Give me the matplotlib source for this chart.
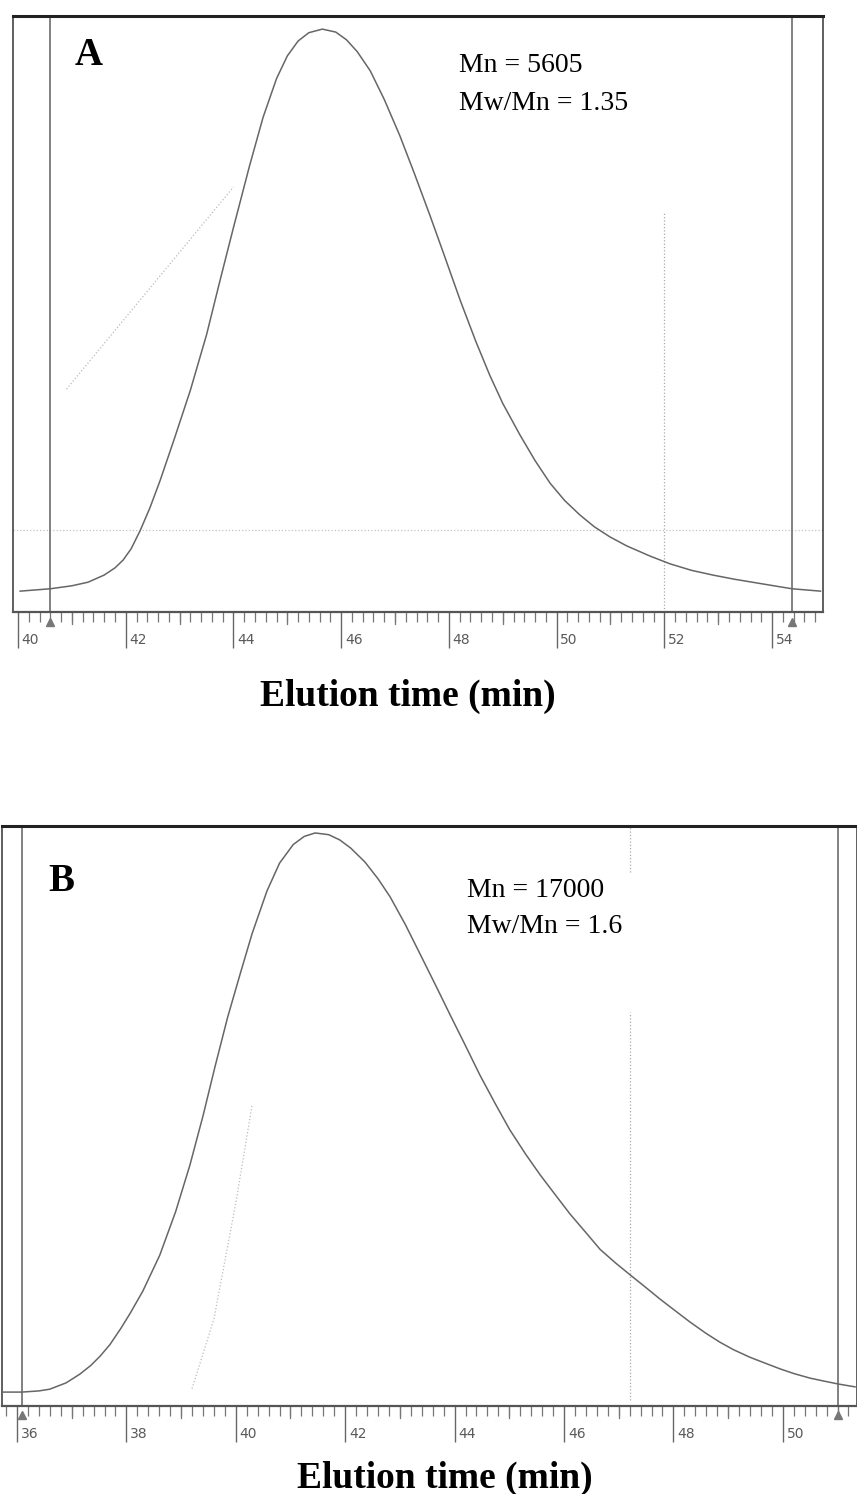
import matplotlib.pyplot as plt
import numpy as np
from matplotlib.transforms import blended_transform_factory

# Panel A trace (elution time, detector signal in % of frame height)
time_a = [40.04, 40.6, 41.0, 41.3, 41.6, 41.8, 41.95, 42.1, 42.27, 42.45, 42.64, 42.9,
          43.2, 43.5, 43.75, 44.0, 44.3, 44.55, 44.8, 45.0, 45.2, 45.4, 45.65, 45.9,
          46.1, 46.3, 46.54, 46.8, 47.09, 47.35, 47.65, 47.9, 48.21, 48.5, 48.76, 49.0,
          49.32, 49.6, 49.88, 50.15, 50.43, 50.7, 50.99, 51.3, 51.73, 52.1, 52.5, 52.9,
          53.3, 53.7, 54.1, 54.37, 54.9]
signal_a = [3.5, 3.9, 4.4, 5.0, 6.2, 7.4, 8.7, 10.6, 13.7, 17.5, 22.1, 29.0,
            37.2, 46.5, 55.6, 64.5, 74.9, 83.0, 89.5, 93.3, 95.8, 97.2, 97.8, 97.3,
            96.0, 94.0, 90.8, 86.0, 79.9, 73.8, 66.5, 60.2, 52.3, 45.4, 39.7, 35.0,
            29.7, 25.4, 21.6, 18.7, 16.3, 14.3, 12.6, 11.1, 9.4, 8.1, 7.0, 6.2,
            5.5, 4.9, 4.3, 3.9, 3.5]

# Panel B trace
time_b = [35.73, 36.09, 36.4, 36.6, 36.9, 37.15, 37.35, 37.52, 37.7, 37.9, 38.07, 38.3,
          38.61, 38.9, 39.16, 39.4, 39.62, 39.85, 40.08, 40.3, 40.57, 40.8, 41.05, 41.25,
          41.45, 41.7, 41.9, 42.1, 42.36, 42.6, 42.82, 43.1, 43.37, 43.65, 43.92, 44.2,
          44.46, 44.75, 45.01, 45.3, 45.56, 45.85, 46.11, 46.4, 46.66, 46.95, 47.21, 47.5,
          47.76, 48.05, 48.3, 48.6, 48.85, 49.1, 49.4, 49.7, 49.95, 50.2, 50.5, 50.75,
          51.01, 51.32]
signal_b = [2.4, 2.4, 2.6, 2.9, 4.0, 5.5, 7.0, 8.6, 10.6, 13.4, 16.0, 19.8,
            26.0, 33.5, 41.5, 50.0, 58.5, 67.0, 74.5, 81.5, 88.8, 93.6, 96.8, 98.2,
            98.8, 98.5, 97.6, 96.2, 93.8, 90.9, 87.8, 83.0, 77.9, 72.6, 67.4, 62.1,
            57.1, 52.0, 47.6, 43.4, 39.9, 36.3, 33.1, 29.9, 27.0, 24.6, 22.6, 20.4,
            18.4, 16.3, 14.5, 12.5, 11.0, 9.7, 8.4, 7.3, 6.4, 5.6, 4.8, 4.3,
            3.8, 3.3]

# faint dotted traces seen in the scan
calib_a_t = [40.9, 44.0]
calib_a_v = [37.4, 71.3]
calib_b_t = [39.2, 39.6, 40.0, 40.3]
calib_b_v = [3.0, 15.0, 35.0, 52.0]

ticks_a = [40, 42, 44, 46, 48, 50, 52, 54]
ticks_b = [36, 38, 40, 42, 44, 46, 48, 50]
marks_a = [40.6, 54.37]   # integration limits
marks_b = [36.09, 51.01]

panels = [
    dict(rect=[0.01517, 0.59036, 0.94516, 0.39893], xlim=(39.907, 54.946),
         t=time_a, s=signal_a, ticks=ticks_a, marks=marks_a,
         ct=calib_a_t, cv=calib_a_v, dot_x=52.0, dot_spans=[(0, 67)], hline=13.8),
    dict(rect=[0.00233, 0.05890, 0.99767, 0.38822], xlim=(35.726, 51.356),
         t=time_b, s=signal_b, ticks=ticks_b, marks=marks_b,
         ct=calib_b_t, cv=calib_b_v, dot_x=47.2, dot_spans=[(1, 68), (92, 100)], hline=None),
]

plt.rcParams['font.family'] = ['Liberation Serif', 'DejaVu Serif']
fig = plt.figure(figsize=(8.57, 14.94), dpi=100)

for p in panels:
    ax = fig.add_axes(p['rect'])
    ax.set_xlim(*p['xlim'])
    ax.set_ylim(0, 100)
    ax.set_yticks([])

    ax.plot(p['t'], p['s'], color='#666666', lw=1.1, zorder=3)
    ax.plot(p['ct'], p['cv'], color='#bbbbbb', lw=0.9, ls=':', zorder=2)
    for lo, hi in p['dot_spans']:
        ax.plot([p['dot_x'], p['dot_x']], [lo, hi], color='#aaaaaa', lw=0.9, ls=':')
    if p['hline'] is not None:
        ax.axhline(p['hline'], color='#c4c4c4', lw=0.9, ls=':')
    for m in p['marks']:
        ax.axvline(m, color='#777777', lw=1.3, zorder=2)

    # spines
    ax.spines['top'].set_linewidth(2.2)
    ax.spines['top'].set_color('#222222')
    for side in ['left', 'right']:
        ax.spines[side].set_linewidth(1.2)
        ax.spines[side].set_color('#444444')
    ax.spines['bottom'].set_linewidth(1.6)
    ax.spines['bottom'].set_color('#555555')

    # ruler-like x axis
    lo, hi = p['xlim']
    minor = np.arange(np.ceil(lo * 5) / 5, hi, 0.2)
    odd = np.arange(np.ceil(lo), hi, 1.0)
    ax.set_xticks(p['ticks'])
    ax.set_xticklabels([])
    ax.set_xticks(minor, minor=True)
    ax.tick_params(axis='x', which='major', direction='out', length=26, width=1.0, color='#666666')
    ax.tick_params(axis='x', which='minor', direction='out', length=7, width=0.9, color='#777777')
    trans = blended_transform_factory(ax.transData, ax.transAxes)
    for o in odd:
        if o not in p['ticks']:
            ax.plot([o, o], [0, -0.02], transform=trans, color='#777777', lw=0.9, clip_on=False)
    for tk in p['ticks']:
        ax.text(tk + 0.07, -0.036, str(tk), transform=trans, ha='left', va='top',
                fontsize=10, color='#5a5a5a', family='DejaVu Sans')
    for m in p['marks']:
        ax.plot([m], [-0.016], transform=trans, marker='^', ms=6, color='#777777',
                clip_on=False, zorder=5)

W, H = 857, 1494
fig.text(75 / W, 1 - 65 / H, 'A', fontsize=28, weight='bold', va='baseline')
fig.text(459 / W, 1 - 72 / H, 'Mn = 5605', fontsize=20, va='baseline')
fig.text(459 / W, 1 - 110 / H, 'Mw/Mn = 1.35', fontsize=20, va='baseline')
fig.text(408 / W, 1 - 706 / H, 'Elution time (min)', fontsize=27, weight='bold',
         ha='center', va='baseline')

fig.text(48 / W, 1 - 891 / H, 'B', fontsize=28, weight='bold', va='baseline')
fig.text(467 / W, 1 - 897 / H, 'Mn = 17000', fontsize=20, va='baseline')
fig.text(467 / W, 1 - 933 / H, 'Mw/Mn = 1.6', fontsize=20, va='baseline')
fig.text(445 / W, 1 - 1488 / H, 'Elution time (min)', fontsize=27, weight='bold',
         ha='center', va='baseline')

fig.savefig('out.png', dpi=100)
